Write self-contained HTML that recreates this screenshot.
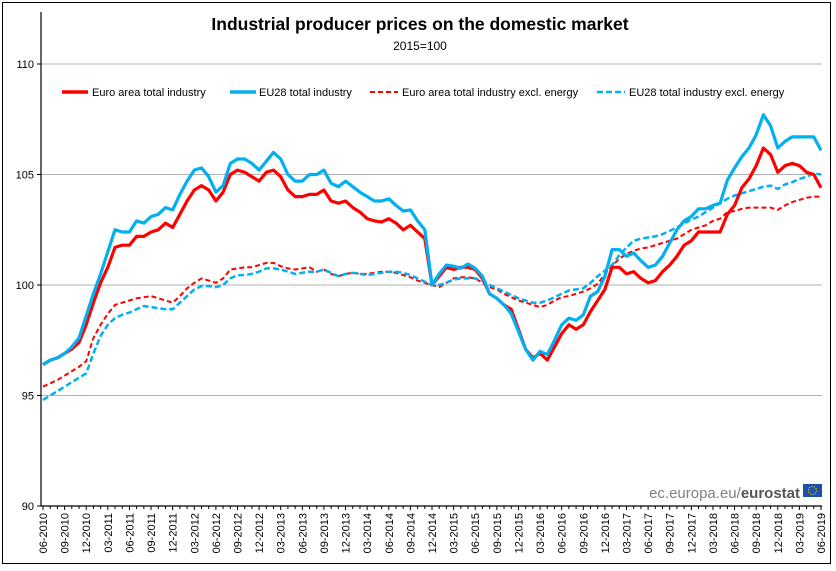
<!DOCTYPE html>
<html><head><meta charset="utf-8"><style>
body{margin:0;background:#fff;}
svg{display:block;font-family:"Liberation Sans",Arial,sans-serif;}
</style></head><body>
<svg id="chart" width="836" height="571" viewBox="0 0 836 571">
<rect x="2.5" y="2.5" width="828" height="561" fill="#fff" stroke="#000" stroke-width="1"/>
<text x="420" y="30" text-anchor="middle" font-size="17.5" font-weight="bold">Industrial producer prices on the domestic market</text>
<text x="420" y="50" text-anchor="middle" font-size="12">2015=100</text>
<g id="grid"></g>
<g id="axes"></g>
<g id="series"></g>
<g id="legend">
<line x1="62" y1="92" x2="88" y2="92" stroke="#ff0000" stroke-width="3.5"/>
<text x="92" y="96" font-size="11">Euro area total industry</text>
<line x1="230" y1="92" x2="256" y2="92" stroke="#00b0f0" stroke-width="3.5"/>
<text x="259" y="96" font-size="11">EU28 total industry</text>
<line x1="370" y1="92" x2="398" y2="92" stroke="#ff0000" stroke-width="2" stroke-dasharray="5,3"/>
<text x="402" y="96" font-size="11">Euro area total industry excl. energy</text>
<line x1="597" y1="92" x2="625" y2="92" stroke="#00b0f0" stroke-width="2.5" stroke-dasharray="6,3"/>
<text x="629" y="96" font-size="11">EU28 total industry excl. energy</text>
</g>
<g>
<text x="800" y="498" text-anchor="end" font-size="15" fill="#808080">ec.europa.eu/<tspan fill="#555" font-weight="bold">eurostat</tspan></text>
<rect x="803" y="484" width="19" height="13" fill="#1f4fa8"/>
<circle cx="812.5" cy="490.5" r="4" fill="none" stroke="#ffdd00" stroke-width="1.2" stroke-dasharray="1,1.5"/>
</g>
</svg>
<script>
const months = ["06-2010","09-2010","12-2010","03-2011","06-2011","09-2011","12-2011","03-2012","06-2012","09-2012","12-2012","03-2013","06-2013","09-2013","12-2013","03-2014","06-2014","09-2014","12-2014","03-2015","06-2015","09-2015","12-2015","03-2016","06-2016","09-2016","12-2016","03-2017","06-2017","09-2017","12-2017","03-2018","06-2018","09-2018","12-2018","03-2019","06-2019"];
const yTicks = [90,95,100,105,110];
const eaTotal = [96.4,96.6,96.7,96.9,97.1,97.4,98.2,99.2,100.1,100.8,101.7,101.8,101.8,102.2,102.2,102.4,102.5,102.8,102.6,103.2,103.8,104.3,104.5,104.3,103.8,104.2,105.0,105.2,105.1,104.9,104.7,105.1,105.2,104.9,104.3,104.0,104.0,104.1,104.1,104.3,103.8,103.7,103.8,103.5,103.3,103.0,102.9,102.85,103.0,102.8,102.5,102.7,102.4,102.1,100.0,100.4,100.8,100.7,100.8,100.8,100.7,100.3,99.6,99.4,99.1,98.9,98.0,97.1,96.7,96.9,96.6,97.2,97.8,98.2,98.0,98.2,98.8,99.3,99.8,100.8,100.8,100.5,100.6,100.3,100.1,100.2,100.6,100.9,101.3,101.8,102.0,102.4,102.4,102.4,102.4,103.2,103.6,104.4,104.8,105.4,106.2,105.9,105.1,105.4,105.5,105.4,105.1,105.0,104.4];
const eu28Total = [96.4,96.6,96.7,96.9,97.2,97.6,98.6,99.6,100.5,101.5,102.5,102.4,102.4,102.9,102.8,103.1,103.2,103.5,103.4,104.1,104.7,105.2,105.3,104.9,104.2,104.5,105.5,105.7,105.7,105.5,105.2,105.6,106.0,105.7,105.0,104.7,104.7,105.0,105.0,105.2,104.6,104.45,104.7,104.45,104.2,104.0,103.8,103.8,103.9,103.6,103.35,103.4,102.9,102.5,100.0,100.5,100.9,100.85,100.75,100.95,100.75,100.4,99.6,99.4,99.1,98.7,97.9,97.1,96.6,97.0,96.85,97.5,98.2,98.5,98.4,98.65,99.5,99.7,100.4,101.6,101.6,101.3,101.45,101.1,100.8,100.9,101.3,101.9,102.5,102.9,103.1,103.45,103.45,103.6,103.7,104.75,105.3,105.8,106.2,106.8,107.7,107.2,106.2,106.5,106.7,106.7,106.7,106.7,106.1];
const eaExcl = [95.4,95.55,95.7,95.9,96.1,96.3,96.55,97.6,98.2,98.7,99.1,99.2,99.3,99.4,99.45,99.5,99.4,99.3,99.2,99.5,99.85,100.1,100.3,100.2,100.1,100.3,100.7,100.75,100.8,100.8,100.9,101.0,101.0,100.85,100.75,100.7,100.75,100.8,100.6,100.7,100.5,100.4,100.5,100.55,100.5,100.5,100.55,100.6,100.6,100.55,100.45,100.35,100.2,100.1,100.0,99.9,100.1,100.3,100.35,100.35,100.3,100.1,99.9,99.8,99.6,99.45,99.3,99.2,99.1,99.0,99.1,99.3,99.45,99.5,99.6,99.7,99.85,100.05,100.5,100.85,101.2,101.4,101.55,101.65,101.7,101.8,101.9,102.0,102.1,102.3,102.5,102.6,102.7,102.9,103.0,103.3,103.35,103.45,103.5,103.5,103.5,103.5,103.4,103.6,103.75,103.85,103.95,104.0,104.0];
const eu28Excl = [94.8,95.0,95.2,95.4,95.6,95.8,96.0,96.9,97.7,98.2,98.5,98.65,98.75,98.9,99.05,99.0,98.95,98.9,98.9,99.2,99.5,99.8,99.95,99.95,99.9,100.0,100.3,100.45,100.45,100.5,100.6,100.75,100.75,100.7,100.6,100.5,100.55,100.6,100.6,100.7,100.55,100.4,100.5,100.55,100.5,100.45,100.5,100.55,100.6,100.6,100.55,100.45,100.3,100.15,100.0,100.0,100.1,100.25,100.3,100.3,100.3,100.2,100.0,99.85,99.7,99.55,99.4,99.3,99.2,99.2,99.3,99.45,99.6,99.75,99.8,99.85,100.1,100.4,100.65,100.9,101.35,101.7,102.0,102.1,102.15,102.2,102.3,102.45,102.6,102.8,102.95,103.1,103.3,103.5,103.7,103.9,104.05,104.15,104.25,104.35,104.45,104.5,104.35,104.55,104.65,104.8,104.9,105.05,105.0];

const NS = "http://www.w3.org/2000/svg";
const X0 = 43, X1 = 821, Y0 = 506, Y1 = 64, VMIN = 90, VMAX = 110;
const nPts = eaTotal.length;
function xs(i){ return X0 + (X1 - X0) * i / (nPts - 1); }
function ys(v){ return Y0 - (v - VMIN) / (VMAX - VMIN) * (Y0 - Y1); }
function mk(tag, attrs, parent){ const e = document.createElementNS(NS, tag); for (const k in attrs) e.setAttribute(k, attrs[k]); parent.appendChild(e); return e; }

const grid = document.getElementById('grid');
const axes = document.getElementById('axes');
yTicks.forEach(v => {
  if (v > VMIN) {
    const g = mk('line', {x1: 41, x2: X1 + 1, y1: ys(v), y2: ys(v), stroke: '#b0b0b0', 'stroke-width': 1}, grid);
    
    
  }
  const t = mk('line', {x1: 37, x2: 41, y1: ys(v), y2: ys(v), stroke: '#000'}, axes);
  
  
  const l = mk('text', {x: 34, y: ys(v) + 4, 'text-anchor': 'end', 'font-size': 11}, axes);
  l.textContent = v;
  
  
});
const ya = mk('line', {x1: 41, x2: 41, y1: 12, y2: Y0, stroke: '#000', 'stroke-width': 1.2}, axes);


const xa = mk('line', {x1: 41, x2: X1 + 1, y1: Y0, y2: Y0, stroke: '#000', 'stroke-width': 1.2}, axes);


for (let i = 0; i < nPts; i++) {
  const t = mk('line', {x1: xs(i), x2: xs(i), y1: Y0, y2: Y0 + (i % 3 === 0 ? 4 : 3), stroke: '#000'}, axes);
  
  
}
months.forEach((m, k) => {
  const x = xs(k * 3);
  const l = mk('text', {x: 0, y: 0, 'text-anchor': 'end', 'font-size': 11, transform: 'translate(' + (x + 4) + ',' + (Y0 + 7) + ') rotate(-90)'}, axes);
  l.textContent = m;
  
  
});

const series = document.getElementById('series');
function drawLine(data, color, width, dash, name){
  const d = data.map((v, i) => (i ? 'L' : 'M') + xs(i).toFixed(1) + ',' + ys(v).toFixed(1)).join(' ');
  const p = mk('path', {d: d, fill: 'none', stroke: color, 'stroke-width': width, 'stroke-linejoin': 'round'}, series);
  if (dash) p.setAttribute('stroke-dasharray', dash);
  
  
}
drawLine(eaExcl, '#ff0000', 2, '5,3', 'line-ea-excl-energy');
drawLine(eu28Excl, '#00b0f0', 2.5, '6,3', 'line-eu28-excl-energy');
drawLine(eaTotal, '#ff0000', 3.2, null, 'line-ea-total');
drawLine(eu28Total, '#00b0f0', 3.2, null, 'line-eu28-total');
</script>
</body></html>
